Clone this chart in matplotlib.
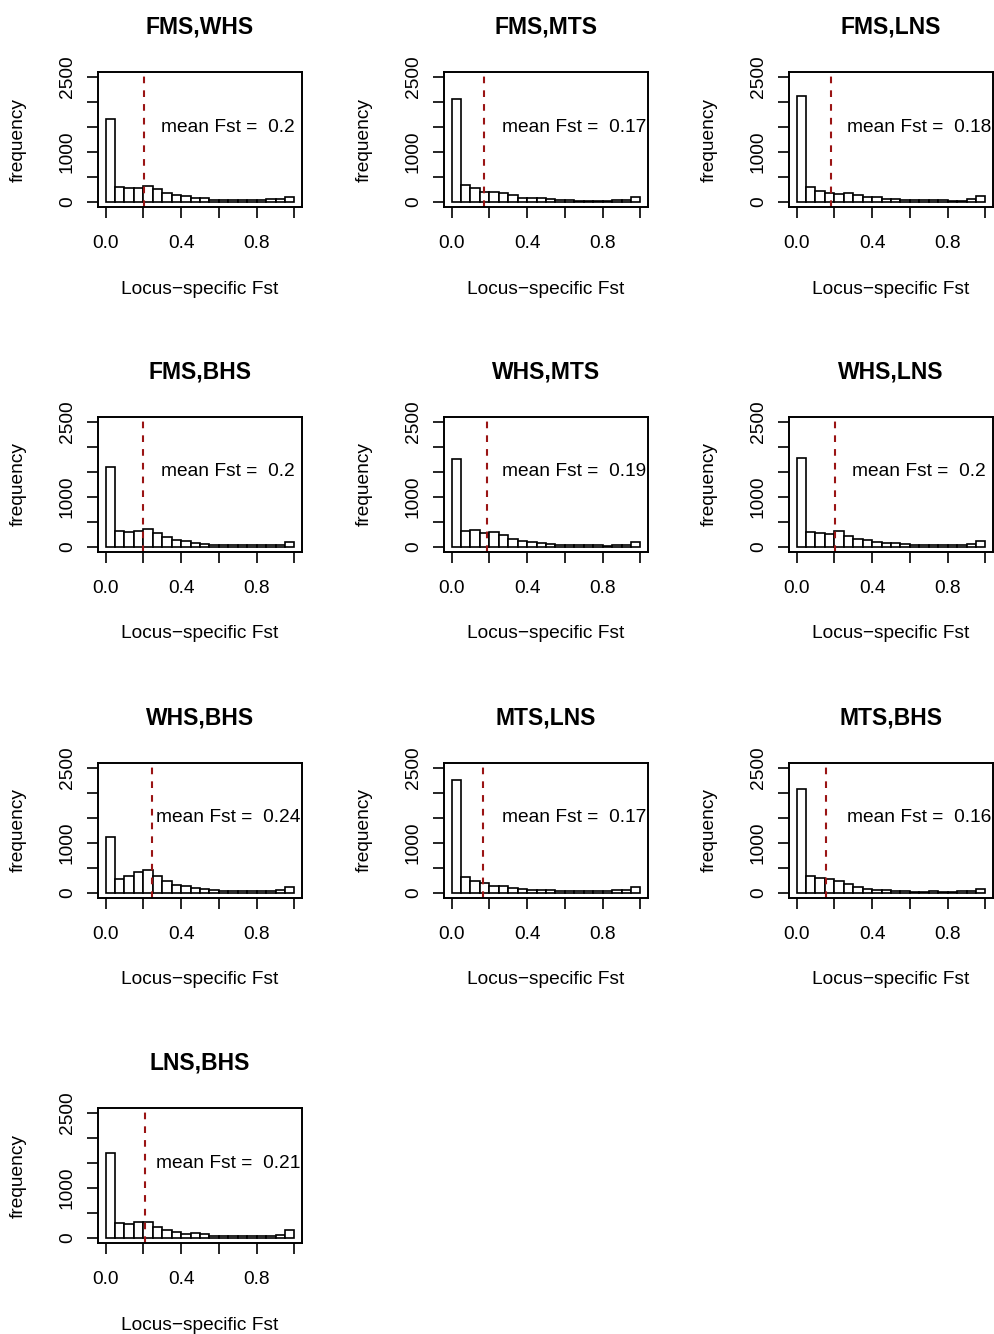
import numpy as np
import matplotlib
matplotlib.use('Agg')
import matplotlib.pyplot as plt

plt.rcParams['font.family'] = ['Liberation Sans', 'DejaVu Sans']

# pairwise comparisons, one histogram each
pairs = ['FMS,WHS', 'FMS,MTS', 'FMS,LNS', 'FMS,BHS', 'WHS,MTS',
         'WHS,LNS', 'WHS,BHS', 'MTS,LNS', 'MTS,BHS', 'LNS,BHS']

# mean locus-specific Fst per pair (dashed line)
mean_fst = [0.201, 0.171, 0.184, 0.199, 0.188, 0.204, 0.244, 0.167, 0.158, 0.208]

# bin edges 0..1 by 0.05, counts
bin_edges = np.linspace(0, 1, 21)
counts_fms_whs = [1667, 300, 280, 280, 320, 260, 187, 140, 127, 87, 73, 47, 40, 33, 33, 40, 40, 53, 67, 93]
counts_fms_mts = [2067, 340, 280, 193, 207, 173, 140, 87, 87, 73, 67, 40, 33, 27, 20, 27, 27, 33, 40, 107]
counts_fms_lns = [2127, 300, 227, 187, 167, 180, 140, 100, 93, 60, 60, 40, 33, 33, 40, 33, 27, 20, 60, 113]
counts_fms_bhs = [1607, 313, 293, 327, 353, 280, 200, 140, 113, 73, 60, 47, 33, 33, 33, 33, 33, 33, 47, 100]
counts_whs_mts = [1767, 320, 333, 287, 300, 240, 153, 120, 100, 80, 60, 47, 40, 33, 33, 33, 27, 33, 40, 100]
counts_whs_lns = [1773, 307, 287, 260, 313, 213, 167, 133, 100, 87, 73, 53, 47, 40, 40, 40, 40, 47, 67, 113]
counts_whs_bhs = [1113, 280, 333, 420, 453, 333, 233, 167, 133, 100, 80, 53, 47, 40, 33, 40, 40, 47, 67, 127]
counts_mts_lns = [2267, 327, 233, 193, 133, 140, 107, 80, 67, 60, 53, 40, 33, 40, 33, 33, 33, 53, 53, 120]
counts_mts_bhs = [2080, 333, 293, 287, 247, 173, 127, 87, 67, 67, 47, 33, 27, 27, 33, 27, 27, 33, 40, 73]
counts_lns_bhs = [1700, 307, 273, 327, 313, 227, 160, 127, 87, 107, 73, 47, 47, 40, 40, 40, 40, 40, 67, 153]

all_counts = [counts_fms_whs, counts_fms_mts, counts_fms_lns, counts_fms_bhs, counts_whs_mts,
              counts_whs_lns, counts_whs_bhs, counts_mts_lns, counts_mts_bhs, counts_lns_bhs]

yticks = [0, 500, 1000, 1500, 2000, 2500]
ytick_labels = ['0', '', '1000', '', '', '2500']
xticks = [0, 0.2, 0.4, 0.6, 0.8, 1.0]
xtick_labels = ['0.0', '', '0.4', '', '0.8', '']

W, H = 995, 1334
fig = plt.figure(figsize=(W / 100, H / 100), dpi=100)

col_left = [98, 444, 789]
row_top = [72, 417, 763, 1108]
bw, bh = 204, 135
fs = 13.75

for i, name in enumerate(pairs):
    r, c = divmod(i, 3)
    ax = fig.add_axes([col_left[c] / W, 1 - (row_top[r] + bh) / H, bw / W, bh / H])
    counts = all_counts[i]
    ax.bar(bin_edges[:-1], counts, width=0.05, align='edge',
           facecolor='white', edgecolor='black', linewidth=1.2)
    ax.axvline(mean_fst[i], color='#9a1414', linewidth=1.5, linestyle=(0, (3.2, 3.4)))
    ax.text(0.65, 1500, 'mean Fst =  %g' % round(mean_fst[i], 2),
            ha='center', va='center', fontsize=fs)
    ax.set_xlim(-0.04, 1.04)
    ax.set_ylim(-100, 2600)
    ax.set_xticks(xticks)
    ax.set_xticklabels(xtick_labels)
    ax.set_yticks(yticks)
    ax.set_yticklabels(ytick_labels, rotation=90, va='center')
    ax.tick_params(direction='out', length=7.9, width=1.2, labelsize=fs)
    ax.tick_params(axis='x', pad=12.6)
    ax.tick_params(axis='y', pad=8)
    for s in ax.spines.values():
        s.set_linewidth(1.4)
    ax.set_xlabel('Locus\u2212specific Fst', fontsize=fs, va='center')
    ax.xaxis.set_label_coords(0.5, -82 / bh)
    ax.set_ylabel('frequency', fontsize=fs, va='center')
    ax.yaxis.set_label_coords(-80 / bw, 0.5)
    ax.text(0.5, 1 + 45 / bh, name, transform=ax.transAxes, ha='center', va='center',
            fontsize=fs * 1.2, fontweight='bold')

fig.savefig('out.png', dpi=100)
